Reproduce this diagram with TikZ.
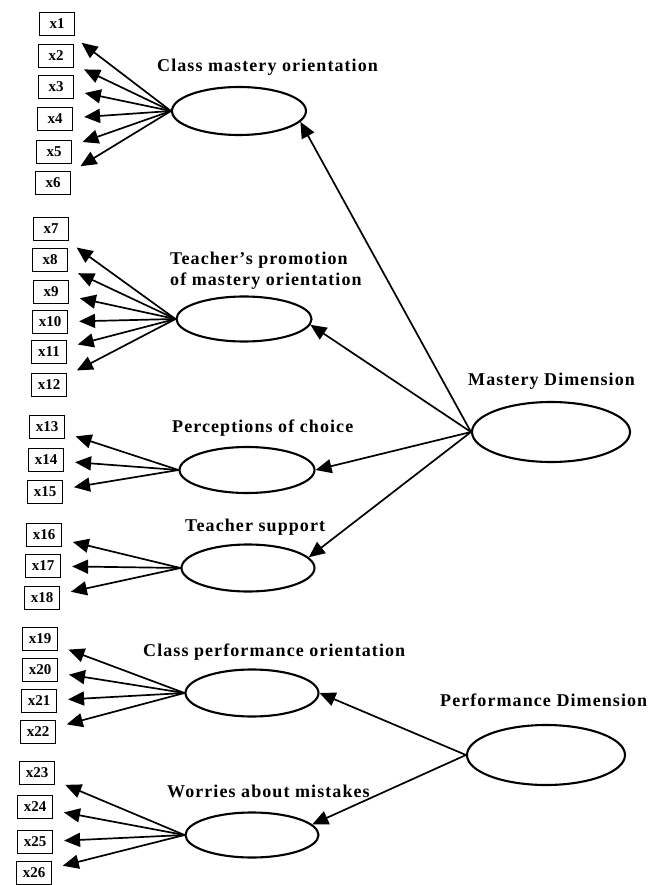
\documentclass[tikz,border=0pt]{standalone}
\usepackage{fontspec}
\setmainfont{Liberation Serif}
\usetikzlibrary{arrows.meta,shapes.geometric}
\begin{document}
\begin{tikzpicture}[x=1pt,y=-1pt,
  obs/.style={draw, line width=1.2pt, minimum width=35pt, minimum height=23pt, inner sep=0pt,
    font=\fontsize{15}{17}\selectfont\bfseries},
  lat/.style={draw, ellipse, line width=2.1pt, inner sep=0pt},
  lab/.style={anchor=base west, inner sep=0pt,
    font=\fontsize{18}{21}\selectfont\bfseries\addfontfeature{LetterSpace=6}},
  arr/.style={line width=1.7pt, -{Triangle[length=16pt,width=14pt]}},
  load/.style={arr, shorten >=11pt},
]
\useasboundingbox (0,0) rectangle (659,885);

% observed indicators
\foreach \n/\px/\py in {1/57/24, 2/56/56, 3/56/87, 4/55/119, 5/54/152, 6/53/183,
  7/51/229, 8/50/260, 9/51/292, 10/50/322, 11/49/352, 12/49/385,
  13/47/427, 14/46/460, 15/45/492,
  16/44/535, 17/43/566, 18/42/598,
  19/40/639, 20/40/670, 21/39/701, 22/38/732,
  23/37/773, 24/35/807, 25/35/842, 26/34/873}
  \node[obs] (x\n) at (\px,\py) {x\n};

% latent factors
\node[lat, minimum width=134pt, minimum height=48pt] (e1) at (239,111) {};
\node[lat, minimum width=135pt, minimum height=45pt] (e2) at (244,319) {};
\node[lat, minimum width=135pt, minimum height=46pt] (e3) at (247,470) {};
\node[lat, minimum width=133pt, minimum height=47pt] (e4) at (248,568) {};
\node[lat, minimum width=133pt, minimum height=47pt] (e5) at (252,693) {};
\node[lat, minimum width=133pt, minimum height=45pt] (e6) at (252,835) {};
\node[lat, minimum width=158pt, minimum height=60pt] (md) at (551,432) {};
\node[lat, minimum width=158pt, minimum height=60pt] (pd) at (546,755) {};

% labels
\node[lab] (l1) at (157,72) {Class mastery orientation};
\node[lab] (l2a) at (170,264) {Teacher's promotion};
\node[lab] (l2b) at (170,285) {of mastery orientation};
\node[lab] (l3) at (172,432) {Perceptions of choice};
\node[lab] (l4) at (185,531) {Teacher support};
\node[lab] (l5) at (143,656) {Class performance orientation};
\node[lab] (l6) at (167,797) {Worries about mistakes};
\node[lab] (l7) at (468,385) {Mastery Dimension};
\node[lab] (l8) at (440,706) {Performance Dimension};

% loadings
\foreach \n in {1,...,6} \draw[load] (e1.west) -- (x\n);
\foreach \n in {7,...,12} \draw[load] (e2.west) -- (x\n);
\foreach \n in {13,14,15} \draw[load] (e3.west) -- (x\n);
\foreach \n in {16,17,18} \draw[load] (e4.west) -- (x\n);
\foreach \n in {19,...,22} \draw[load] (e5.west) -- (x\n);
\foreach \n in {23,...,26} \draw[load] (e6.west) -- (x\n);

% second-order paths
\draw[arr] (md.west) -- (e1.-10);
\draw[arr] (md.west) -- (e2.-5);
\draw[arr] (md.west) -- (e3.east);
\draw[arr] (md.west) -- (e4.10);
\draw[arr] (pd.west) -- (e5.east);
\draw[arr] (pd.west) -- (e6.10);
\end{tikzpicture}
\end{document}
